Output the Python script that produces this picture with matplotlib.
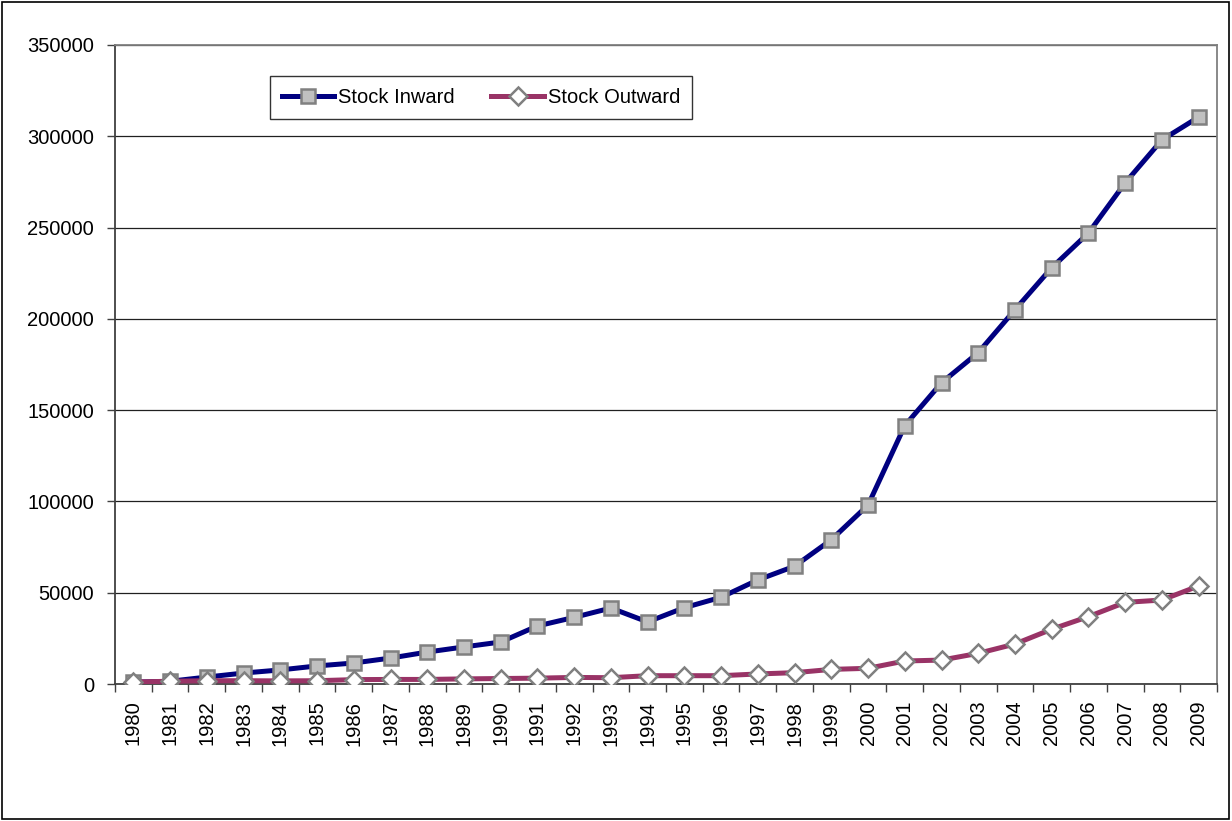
import matplotlib
matplotlib.use("Agg")
import matplotlib.pyplot as plt
from matplotlib.patches import Rectangle
import numpy as np

years = [str(y) for y in range(1980, 2010)]
stock_inward = [1000, 1500, 3800, 6000, 7700, 9900, 11500, 14200, 17500, 20300,
                23000, 31800, 36500, 41600, 34000, 41800, 47500, 57000, 64500, 79000,
                98000, 141500, 165000, 181500, 205000, 228000, 247000, 274500, 298000, 310500]
stock_outward = [1100, 1500, 1800, 1800, 1700, 1800, 2400, 2500, 2500, 2800,
                 3000, 3200, 3600, 3450, 4550, 4550, 4550, 5500, 6200, 8000,
                 8600, 12600, 13100, 16800, 21900, 30000, 36900, 44700, 46000, 53700]

plt.rcParams['font.family'] = ['Liberation Sans', 'DejaVu Sans']

fig = plt.figure(figsize=(12.32, 8.21), dpi=100)
ax = fig.add_axes([115/1232, 1-684/821, (1217-115)/1232, (684-45)/821])

x = np.arange(len(years))
ax.plot(x, stock_inward, color='#000080', lw=3.6, marker='s', markersize=10.5,
        markerfacecolor='#C0C0C0', markeredgecolor='#808080', markeredgewidth=1.8,
        label='Stock Inward', zorder=3)
ax.plot(x, stock_outward, color='#993366', lw=3.6, marker='D', markersize=9.5,
        markerfacecolor='white', markeredgecolor='#808080', markeredgewidth=1.8,
        label='Stock Outward', zorder=3)

ax.set_xlim(-0.5, len(years) - 0.5)
ax.set_ylim(0, 350000)
ax.set_yticks(np.arange(0, 350001, 50000))
ax.set_yticklabels([str(v) for v in range(0, 350001, 50000)], fontsize=14.5)
ax.yaxis.grid(True, color='#202020', lw=0.9)
ax.set_axisbelow(True)

ax.set_xticks(x)
ax.set_xticklabels(years, rotation=90, fontsize=14.5)
ax.tick_params(axis='x', which='major', length=0, pad=12)
ax.set_xticks(np.arange(-0.5, len(years), 1), minor=True)
ax.tick_params(axis='x', which='minor', length=6, color='#404040', width=1)
ax.tick_params(axis='y', length=6, color='#404040', width=1, pad=9)

ax.spines['left'].set_color('#404040')
ax.spines['bottom'].set_color('#404040')
ax.spines['right'].set_color('#808080')
ax.spines['top'].set_color('#808080')
for s in ax.spines.values():
    s.set_linewidth(1.3)

leg = ax.legend(loc='upper left', bbox_to_anchor=((270-115)/1102, (684-76)/639),
                ncol=2, fontsize=14.5, frameon=True, fancybox=False, edgecolor='black',
                handlelength=2.6, columnspacing=1.8, borderpad=0.6, handletextpad=0.2,
                borderaxespad=0)
leg.get_frame().set_linewidth(1.0)

fig.patches.append(Rectangle((0.0015, 0.002), 0.996, 0.996, transform=fig.transFigure,
                             fill=False, edgecolor='black', lw=1.2))

fig.savefig('out.png', dpi=100)
